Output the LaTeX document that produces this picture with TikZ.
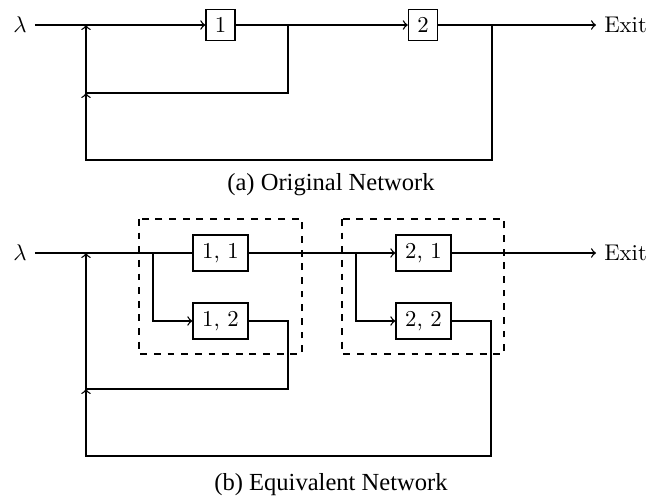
\documentclass[tikz,border=0pt]{standalone}
\usepackage{fontspec}
\newfontfamily\capfont{Liberation Serif}
\usetikzlibrary{positioning}

\begin{document}
\begin{tikzpicture}[x=0.44pt, y=-0.44pt, >=to, semithick,
  server/.style={draw, minimum width=12.8pt, minimum height=13.6pt, inner sep=0pt},
  wideserver/.style={draw, minimum width=24.2pt, minimum height=15.8pt, inner sep=0pt},
  group/.style={draw, dashed},
  caption/.style={font=\capfont\fontsize{10.8}{13}\selectfont}]
\useasboundingbox (0,0) rectangle (663,498);

% (a) original network
\node (lama) at (20,25) {$\lambda$};
\node[server] (s1) at (220.5,25) {$1$};
\node[server] (s2) at (423,25) {$2$};
\node[right] (exita) at (596,25) {Exit};
\coordinate (ja) at (86,25);
\coordinate (fa1) at (86,93);
\coordinate (fa2) at (86,160);
\coordinate (ta1) at (288,25);
\coordinate (ta2) at (492,25);
\draw[->] (lama) -- (s1);
\draw[->] (s1) -- (s2);
\draw[->] (s2) -- (exita);
\draw[->] (ta1) |- (fa1) -- (ja);
\draw[->] (ta2) |- (fa2) -- (fa1);
\node[caption] (capa) at (331,185) {(a) Original Network};

% (b) equivalent network
\draw[group] (139,219) rectangle (302,354);
\draw[group] (342,219) rectangle (504,354);
\node (lamb) at (20,253) {$\lambda$};
\node[wideserver] (s11) at (220.5,253) {1, 1};
\node[wideserver] (s12) at (220.5,321) {1, 2};
\node[wideserver] (s21) at (423.5,253) {2, 1};
\node[wideserver] (s22) at (423.5,321) {2, 2};
\node[right] (exitb) at (596,253) {Exit};
\coordinate (jb) at (86,253);
\coordinate (sp1) at (153,253);
\coordinate (sp2) at (356,253);
\coordinate (cb1) at (288,389);
\coordinate (cb2) at (491,456);
\coordinate (fb1) at (86,389);
\coordinate (fb2) at (86,456);
\draw (lamb) -- (s11);
\draw[->] (sp1) |- (s12);
\draw[->] (s11) -- (s21);
\draw[->] (sp2) |- (s22);
\draw[->] (s21) -- (exitb);
\draw[->] (s12) -| (cb1) -- (fb1) -- (jb);
\draw[->] (s22) -| (cb2) -- (fb2) -- (fb1);
\node[caption] (capb) at (331,485) {(b) Equivalent Network};
\end{tikzpicture}
\end{document}
